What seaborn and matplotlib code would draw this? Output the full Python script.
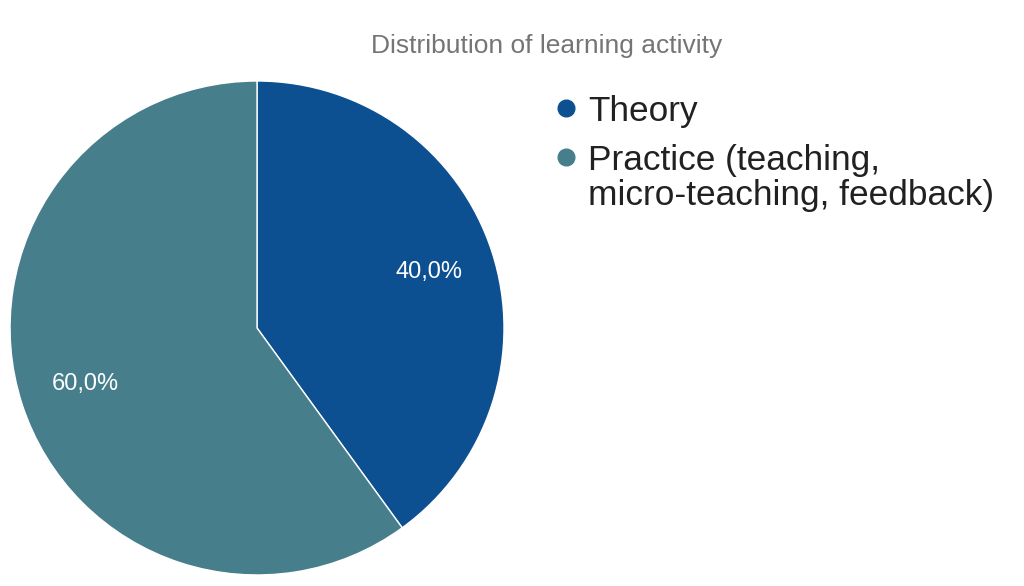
import numpy as np
import seaborn as sns
import matplotlib.pyplot as plt
from matplotlib.lines import Line2D
from matplotlib.legend_handler import HandlerLine2D

# data
activities = ['Theory', 'Practice (teaching,\nmicro-teaching, feedback)']
shares = [40, 60]
slice_colors = ['#0d5091', '#467f8b']


class FirstLineHandler(HandlerLine2D):
    """Put the marker next to the first line of a multi-line label."""

    def __init__(self, shift=0.0, **kw):
        super().__init__(**kw)
        self.shift = shift

    def create_artists(self, legend, orig_handle, xdescent, ydescent,
                       width, height, fontsize, trans):
        artists = super().create_artists(legend, orig_handle, xdescent, ydescent,
                                         width, height, fontsize, trans)
        for a in artists:
            a.set_ydata(np.asarray(a.get_ydata()) + self.shift)
        return artists


def main():
    sns.set_theme(style='white')
    plt.rcParams['font.family'] = ['Liberation Sans', 'DejaVu Sans']

    fig = plt.figure(figsize=(10.24, 5.86), dpi=100)
    ax = fig.add_axes([0.0098, 0.0188, 0.4824, 0.843])

    wedges, _, autotexts = ax.pie(
        shares,
        colors=slice_colors,
        startangle=90,
        counterclock=False,
        autopct=lambda p: f'{p:.1f}%'.replace('.', ','),
        pctdistance=0.73,
        wedgeprops=dict(edgecolor='white', linewidth=1),
        textprops=dict(color='white', fontsize=17),
    )
    ax.set_xlim(-1, 1)
    ax.set_ylim(-1, 1)
    ax.set_aspect('equal')
    ax.axis('off')

    fig.text(0.534, 1 - 46 / 586, 'Distribution of learning activity',
             ha='center', va='center', fontsize=19, color='#757575')

    handles = [Line2D([], [], linestyle='none', marker='o', markersize=12,
                      color=c) for c in slice_colors]
    leg = fig.legend(handles, activities, loc='upper left',
                     bbox_to_anchor=(0.5235, 1 - 77 / 586),
                     frameon=False, fontsize=25.4, borderpad=0,
                     handlelength=0.7, handletextpad=0.27, labelspacing=0.46,
                     handler_map={handles[0]: FirstLineHandler(numpoints=1),
                                  handles[1]: FirstLineHandler(shift=15.5, numpoints=1)})
    for t in leg.get_texts():
        t.set_color('#212121')
        t.set_linespacing(1.1)

    plt.savefig('out.png', dpi=100)


if __name__ == '__main__':
    main()
